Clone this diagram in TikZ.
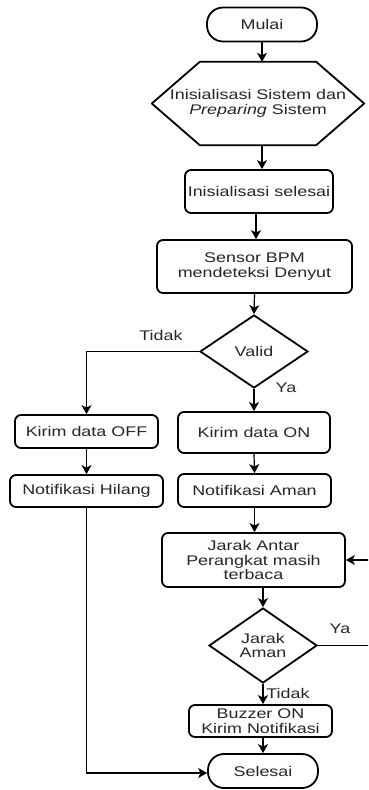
\documentclass[tikz,border=0pt]{standalone}
\usepackage{fontspec}
\setmainfont{Liberation Sans}[FakeStretch=1.28]
\usetikzlibrary{arrows.meta,shapes.geometric}
\begin{document}
\begin{tikzpicture}[x=1pt,y=-1pt,
  font=\fontsize{14}{14.5}\selectfont,
  every node/.style={text=black!85},
  box/.style={draw=black, line width=1.8pt, rounded corners=6pt, align=center, inner sep=0pt},
  term/.style={draw=black, line width=1.8pt, rounded corners=16pt, align=center, inner sep=0pt, minimum width=110pt, minimum height=34pt},
  dec/.style={draw=black, line width=1.8pt, diamond, shape aspect=1.45, align=center, inner sep=0pt, minimum width=108pt},
  lbl/.style={inner sep=0pt},
  arr/.style={draw=black, line width=1.2pt, -{Stealth[length=9pt,width=10pt,inset=2.5pt]}},
  ln/.style={draw=black, line width=1.2pt}]
\clip (0,0) rectangle (368,790);
\fill[white] (0,0) rectangle (368,790);

\node[term] (mulai) at (262,24.5) {Mulai};
\node[align=center, inner sep=0pt, minimum width=212pt, minimum height=83pt] (hex) at (258,103.5) {Inisialisasi Sistem dan\\\textit{Preparing} Sistem};
\draw[line width=1.8pt, line join=round] (hex.west) -- ([xshift=48pt]hex.north west) -- ([xshift=-48pt]hex.north east) -- (hex.east) -- ([xshift=-48pt]hex.south east) -- ([xshift=48pt]hex.south west) -- cycle;
\node[box, minimum width=148pt, minimum height=43pt] (init) at (259,191.5) {Inisialisasi selesai};
\node[box, minimum width=195pt, minimum height=53pt] (sensor) at (254.5,266.5) {Sensor BPM\\mendeteksi Denyut};
\node[dec, minimum height=73pt] (valid) at (254,351.5) {Valid};
\node[lbl] (tidak1) at (161,335) {Tidak};
\node[lbl] (ya1) at (286,388) {Ya};
\node[box, minimum width=143pt, minimum height=33pt] (koff) at (86.5,431.5) {Kirim data OFF};
\node[box, minimum width=152pt, minimum height=41pt] (kon) at (254,432.5) {Kirim data ON};
\node[box, minimum width=153pt, minimum height=32pt] (nhil) at (86.5,491) {Notifikasi Hilang};
\node[box, minimum width=153pt, minimum height=33pt] (naman) at (254.5,490.5) {Notifikasi Aman};
\node[box, minimum width=183pt, minimum height=54pt] (jarak) at (253.5,560) {Jarak Antar\\Perangkat masih\\terbaca};
\node[dec, minimum height=75pt] (jaman) at (263,645.5) {Jarak\\Aman};
\node[lbl] (ya2) at (340,629) {Ya};
\node[lbl] (tidak2) at (288,693) {Tidak};
\node[box, minimum width=143pt, minimum height=32pt] (buzzer) at (260.5,721) {Buzzer ON\\Kirim Notifikasi};
\node[term] (selesai) at (263,771) {Selesai};
\coordinate (rloop) at (372,600);

\draw[arr] (mulai.south) -- (mulai.south |- hex.north);
\draw[arr] (hex.south -| mulai.south) -- (init.north -| mulai.south);
\draw[arr] (init.south -| 256,0) -- (sensor.north -| 256,0);
\draw[arr] (sensor.south) -- (valid.north);
\draw[arr] (valid.west) -| (koff.north);
\draw[arr] (valid.south) -- (kon.north);
\draw[arr] (koff.south) -- (nhil.north);
\draw[arr] (kon.south) -- (naman.north);
\draw[arr] (naman.south) -- (jarak.north -| naman.south);
\draw[arr] (jarak.south -| jaman.north) -- (jaman.north);
\draw[arr] (jaman.east) -- (jaman.east -| rloop) |- (jarak.east);
\draw[arr] (jaman.south) -- (jaman.south |- buzzer.north);
\draw[arr] (buzzer.south -| selesai.north) -- (selesai.north);
\draw[arr] (nhil.south) |- ([yshift=-2pt]selesai.west);
\end{tikzpicture}
\end{document}
